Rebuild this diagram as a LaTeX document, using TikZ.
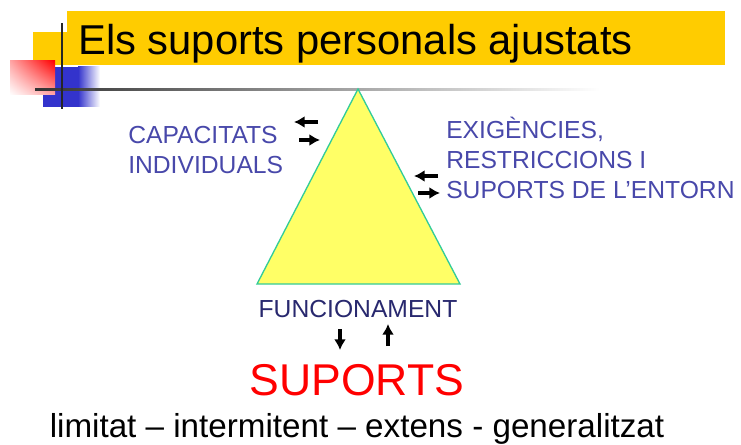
\documentclass[tikz,border=0pt]{standalone}
\usepackage{fontspec}
\setmainfont{Liberation Sans}
\usetikzlibrary{arrows.meta,shadings}
\definecolor{titleyellow}{RGB}{255,204,0}
\definecolor{triyellow}{RGB}{255,255,102}
\definecolor{trigreen}{RGB}{51,204,153}
\definecolor{labelblue}{RGB}{72,72,170}
\definecolor{funcblue}{RGB}{40,40,110}
\definecolor{barblue}{RGB}{51,51,204}
\tikzset{
  arr/.style={line width=2.4pt,-{Latex[length=8pt,width=9pt]}},
  lbl/.style={text=labelblue,font=\fontsize{18.5}{22.5}\selectfont,inner sep=0,align=left,anchor=base west}
}

\begin{document}
\begin{tikzpicture}[x=0.75pt,y=-0.75pt]
\useasboundingbox (0,0) rectangle (741,445);
\fill [titleyellow] (33,32) rectangle (67,65);
\fill [titleyellow] (67,11) rectangle (725,65);
\fill [barblue] (43,67) rectangle (78,107);
\shade [left color=barblue,right color=white] (78,67) rectangle (100,107);
\shade [upper right=red,upper left=red!35,lower right=red!35,lower left=white] (10,61) rectangle (55,95);
\shade [left color=black!80,middle color=black!45,right color=white] (35,89) rectangle (600,91);
\draw [line width=1.5pt,black!85] (62,23) -- (62,109);
\node [anchor=base west,inner sep=0,font=\fontsize{31.3}{31.3}\selectfont] (title) at (78,55) {Els suports personals ajustats};

\coordinate (apex) at (358,89);
\coordinate (baseR) at (460,284);
\coordinate (baseL) at (257,284);
\draw [trigreen,fill=triyellow,line width=1pt] (apex) -- (baseR) -- (baseL) -- cycle;

\node [lbl] (capac) at (128,174) {CAPACITATS\\INDIVIDUALS};
\node [lbl] (exig) at (446,199) {EXIGÈNCIES,\\RESTRICCIONS I\\SUPORTS DE L’ENTORN};
\node [anchor=base,inner sep=0,text=funcblue,font=\fontsize{18.5}{18.5}\selectfont] (func) at (358,317) {FUNCIONAMENT};
\node [anchor=base,inner sep=0,text=red,font=\fontsize{33.4}{33.4}\selectfont] (suports) at (357,395) {SUPORTS};
\node [anchor=base,inner sep=0,font=\fontsize{24.9}{24.9}\selectfont] (nivells) at (357,437) {limitat – intermitent – extens - generalitzat};

\coordinate (c1a) at (318,122);
\coordinate (c1b) at (294,122);
\coordinate (c2a) at (299,140);
\coordinate (c2b) at (320,140);
\coordinate (e1a) at (438,176);
\coordinate (e1b) at (414,176);
\coordinate (e2a) at (418,193);
\coordinate (e2b) at (440,193);
\coordinate (f1a) at (340,329);
\coordinate (f1b) at (340,350);
\coordinate (f2a) at (388,346);
\coordinate (f2b) at (388,324);
\draw [arr] (c1a) -- (c1b);
\draw [arr] (c2a) -- (c2b);
\draw [arr] (e1a) -- (e1b);
\draw [arr] (e2a) -- (e2b);
\draw [arr] (f1a) -- (f1b);
\draw [arr] (f2a) -- (f2b);
\end{tikzpicture}
\end{document}
